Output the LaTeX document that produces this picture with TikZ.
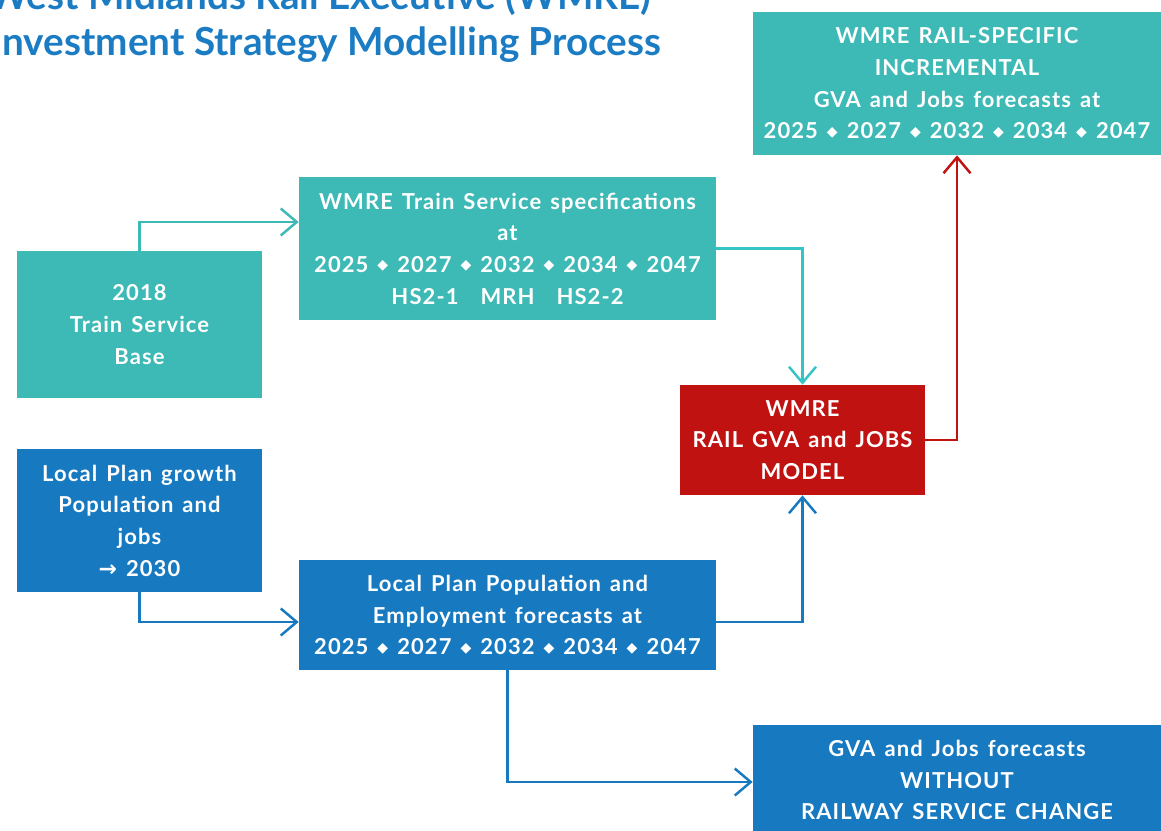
\documentclass[tikz,border=0pt]{standalone}
\usepackage{fontspec}
\setmainfont{Lato}
\newfontfamily\boxfont{Lato}[LetterSpace=5, WordSpace=1.4]
\newfontfamily\symfont{DejaVu Sans}
\usetikzlibrary{arrows.meta,positioning}

\definecolor{wmteal}{HTML}{3DB9B6}
\definecolor{wmcyan}{HTML}{35C4C6}
\definecolor{wmblue}{HTML}{1779C0}
\definecolor{wmred}{HTML}{C11212}
\definecolor{wmtitle}{HTML}{1B7CC4}

\newcommand{\dia}{\raisebox{1.4pt}{\symfont\footnotesize ◆}}

\begin{document}
\begin{tikzpicture}[
  box/.style={draw=none, rectangle, inner sep=0pt, align=center, text=white,
    font=\boxfont\fontsize{12.5}{18}\selectfont\bfseries},
  heading/.style={draw=none, inner sep=0pt, text=wmtitle,
    font=\fontsize{22}{26}\selectfont\bfseries},
  link/.style={line width=1.4pt,
    -{Straight Barb[length=3.2mm,width=5.4mm,line width=1.4pt]}}
]
\useasboundingbox (0,0) rectangle (23.22,-16.6);

% Title (cut by the page edge)
\node[heading, anchor=base west] (title1) at (-0.24,-0.2) {West Midlands Rail Executive (WMRE)};
\node[heading, anchor=base west] (title2) at (-0.18,-1.1) {Investment Strategy Modelling Process};

% Teal boxes: rail service side
\node[box, fill=wmteal, minimum width=4.9cm, minimum height=2.94cm] (base) at (2.79,-6.49)
  {2018\\Train Service\\Base};
\node[box, fill=wmteal, minimum width=8.34cm, minimum height=2.86cm] (spec) at (10.15,-4.97)
  {WMRE Train Service specifications\\at\\2025 \dia{} 2027 \dia{} 2032 \dia{} 2034 \dia{} 2047\\HS2-1\quad MRH\quad HS2-2};
\node[box, fill=wmteal, minimum width=8.16cm, minimum height=2.86cm] (railinc) at (19.14,-1.67)
  {WMRE RAIL-SPECIFIC\\INCREMENTAL\\GVA and Jobs forecasts at\\2025 \dia{} 2027 \dia{} 2032 \dia{} 2034 \dia{} 2047};

% Model
\node[box, fill=wmred, minimum width=4.9cm, minimum height=2.2cm] (model) at (16.05,-8.8)
  {WMRE\\RAIL GVA and JOBS\\MODEL};

% Blue boxes: land use side
\node[box, fill=wmblue, minimum width=4.9cm, minimum height=2.86cm] (growth) at (2.79,-10.41)
  {Local Plan growth\\Population and\\jobs\\{\symfont →} 2030};
\node[box, fill=wmblue, minimum width=8.34cm, minimum height=2.2cm] (lpf) at (10.15,-12.3)
  {Local Plan Population and\\Employment forecasts at\\2025 \dia{} 2027 \dia{} 2032 \dia{} 2034 \dia{} 2047};
\node[box, fill=wmblue, minimum width=8.16cm, minimum height=2.2cm] (nochg) at (19.14,-15.6)
  {GVA and Jobs forecasts\\WITHOUT\\RAILWAY SERVICE CHANGE};

% Connectors
\draw[link, wmteal] (base.north) |- ([yshift=0.53cm]spec.west);
\draw[link, wmcyan] (spec.east) -| (model.north);
\draw[link, wmred] (model.east) -| (railinc.south);
\draw[link, wmblue] (growth.south) |- ([yshift=-0.14cm]lpf.west);
\draw[link, wmblue] ([yshift=-0.14cm]lpf.east) -| (model.south);
\draw[link, wmblue] (lpf.south) |- ([yshift=-0.04cm]nochg.west);

\end{tikzpicture}
\end{document}
